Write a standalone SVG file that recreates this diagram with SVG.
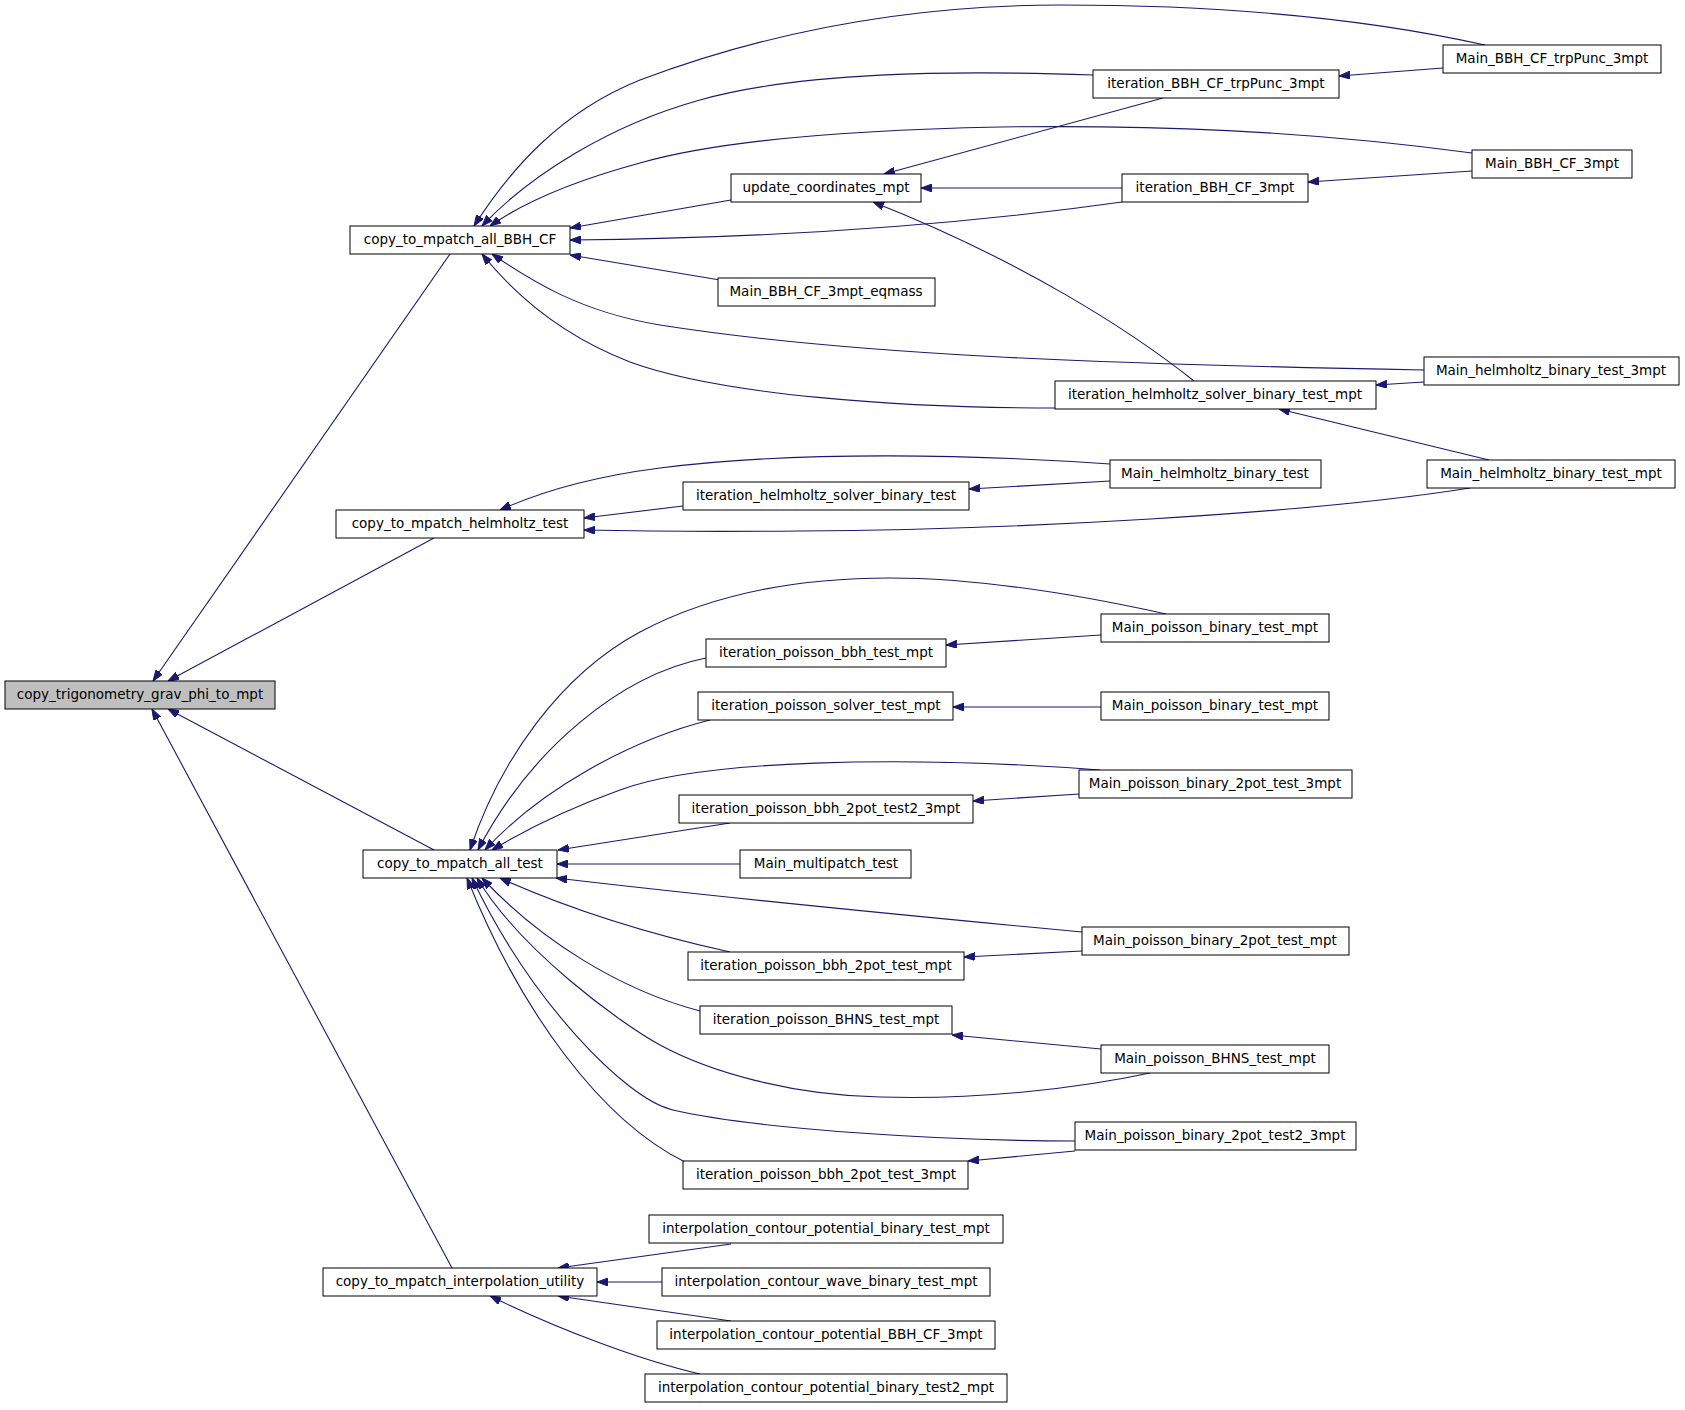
<svg xmlns="http://www.w3.org/2000/svg" width="1685" height="1410" viewBox="0 0 1685 1410">
<style>
.n rect{fill:#fff;stroke:#000;stroke-width:1}
.n text{font-family:"DejaVu Sans","Liberation Sans",sans-serif;font-size:13.5px;text-anchor:middle;fill:#000}
.e path{fill:none;stroke:#191970;stroke-width:1.1;marker-end:url(#ah)}
</style>
<defs>
<marker id="ah" markerUnits="userSpaceOnUse" markerWidth="11" markerHeight="8" refX="11" refY="4" orient="auto" viewBox="0 0 11 8">
<path d="M0,0 L11,4 L0,8 z" fill="#191970" stroke="#191970" stroke-width="1"/>
</marker>
</defs>
<rect width="1685" height="1410" fill="#fff"/>
<g id="edges" class="e">
<path d="M450,254 L153,681"/>
<path d="M434,538 L168,681"/>
<path d="M434,850 L168,709"/>
<path d="M452,1268 L152,709"/>
<path d="M1485,45 C1350,15 1200,5 1060,5 C900,5 760,35 640,80 C560,112 510,170 474,226"/>
<path d="M1093,75 C950,70 800,72 700,100 C610,125 530,175 482,226"/>
<path d="M1472,153 C1300,130 1150,125 1000,127 C850,130 720,140 640,163 C570,182 520,205 490,226"/>
<path d="M731,200 L570,228"/>
<path d="M1122,202 C980,222 800,238 570,240"/>
<path d="M720,280 L570,255"/>
<path d="M1424,370 C1100,364 850,355 660,325 C580,312 530,280 492,254"/>
<path d="M1055,408 C900,408 720,395 630,362 C560,335 515,295 482,254"/>
<path d="M1163,98 L884,174"/>
<path d="M1122,188 L921,188"/>
<path d="M1194,381 C1130,330 1020,260 873,202"/>
<path d="M1443,68 L1339,76"/>
<path d="M1472,171 L1308,182"/>
<path d="M1424,382 L1376,385"/>
<path d="M1489,460 L1279,409"/>
<path d="M1110,464 C980,455 800,450 660,468 C590,477 540,492 500,510"/>
<path d="M683,506 L584,518"/>
<path d="M1470,488 C1300,515 1000,530 800,531 C700,532 630,531 584,530"/>
<path d="M1110,481 L969,489"/>
<path d="M1166,614 C1080,595 980,578 890,578 C780,578 700,600 640,632 C560,675 500,760 470,850"/>
<path d="M706,658 C620,675 530,750 478,850"/>
<path d="M710,720 C630,740 540,790 485,850"/>
<path d="M1100,770 C900,755 700,760 620,790 C570,808 525,830 492,850"/>
<path d="M730,823 L558,850"/>
<path d="M740,864 L557,864"/>
<path d="M1082,932 C900,915 700,895 556,878"/>
<path d="M730,952 C640,932 560,905 500,878"/>
<path d="M700,1011 C620,990 540,940 482,878"/>
<path d="M1150,1073 C1080,1088 980,1100 880,1097 C790,1095 710,1072 660,1045 C620,1023 520,950 477,878"/>
<path d="M1075,1141 C950,1141 760,1130 673,1110 C625,1099 530,1000 472,878"/>
<path d="M685,1162 C600,1120 520,1010 467,878"/>
<path d="M1101,635 L946,645"/>
<path d="M1101,707 L953,707"/>
<path d="M1079,794 L973,801"/>
<path d="M1082,951 L964,957"/>
<path d="M1101,1049 L952,1035"/>
<path d="M1075,1151 L968,1161"/>
<path d="M731,1244 L558,1268"/>
<path d="M662,1282 L597,1282"/>
<path d="M731,1321 L558,1296"/>
<path d="M700,1374 C640,1360 560,1330 490,1296"/>
</g>
<g id="n0" class="n"><rect x="5" y="681" width="270" height="28" style="fill:#bfbfbf"/><text x="140" y="699">copy_trigonometry_grav_phi_to_mpt</text></g>
<g id="n1" class="n"><rect x="350" y="226" width="220" height="28"/><text x="460" y="244">copy_to_mpatch_all_BBH_CF</text></g>
<g id="n2" class="n"><rect x="336" y="510" width="248" height="28"/><text x="460" y="528">copy_to_mpatch_helmholtz_test</text></g>
<g id="n3" class="n"><rect x="363" y="850" width="194" height="28"/><text x="460" y="868">copy_to_mpatch_all_test</text></g>
<g id="n4" class="n"><rect x="323" y="1268" width="274" height="28"/><text x="460" y="1286">copy_to_mpatch_interpolation_utility</text></g>
<g id="n5" class="n"><rect x="1443" y="45" width="218" height="28"/><text x="1552" y="63">Main_BBH_CF_trpPunc_3mpt</text></g>
<g id="n6" class="n"><rect x="1093" y="70" width="246" height="28"/><text x="1216" y="88">iteration_BBH_CF_trpPunc_3mpt</text></g>
<g id="n7" class="n"><rect x="1472" y="150" width="160" height="28"/><text x="1552" y="168">Main_BBH_CF_3mpt</text></g>
<g id="n8" class="n"><rect x="731" y="174" width="190" height="28"/><text x="826" y="192">update_coordinates_mpt</text></g>
<g id="n9" class="n"><rect x="1122" y="174" width="186" height="28"/><text x="1215" y="192">iteration_BBH_CF_3mpt</text></g>
<g id="n10" class="n"><rect x="718" y="278" width="217" height="28"/><text x="826" y="296">Main_BBH_CF_3mpt_eqmass</text></g>
<g id="n11" class="n"><rect x="1424" y="357" width="255" height="28"/><text x="1551" y="375">Main_helmholtz_binary_test_3mpt</text></g>
<g id="n12" class="n"><rect x="1055" y="381" width="321" height="28"/><text x="1215" y="399">iteration_helmholtz_solver_binary_test_mpt</text></g>
<g id="n13" class="n"><rect x="1110" y="460" width="211" height="28"/><text x="1215" y="478">Main_helmholtz_binary_test</text></g>
<g id="n14" class="n"><rect x="1427" y="460" width="248" height="28"/><text x="1551" y="478">Main_helmholtz_binary_test_mpt</text></g>
<g id="n15" class="n"><rect x="683" y="482" width="286" height="28"/><text x="826" y="500">iteration_helmholtz_solver_binary_test</text></g>
<g id="n16" class="n"><rect x="1101" y="614" width="228" height="28"/><text x="1215" y="632">Main_poisson_binary_test_mpt</text></g>
<g id="n17" class="n"><rect x="706" y="639" width="240" height="28"/><text x="826" y="657">iteration_poisson_bbh_test_mpt</text></g>
<g id="n18" class="n"><rect x="698" y="692" width="255" height="28"/><text x="826" y="710">iteration_poisson_solver_test_mpt</text></g>
<g id="n19" class="n"><rect x="1101" y="692" width="228" height="28"/><text x="1215" y="710">Main_poisson_binary_test_mpt</text></g>
<g id="n20" class="n"><rect x="1079" y="770" width="273" height="28"/><text x="1215" y="788">Main_poisson_binary_2pot_test_3mpt</text></g>
<g id="n21" class="n"><rect x="679" y="795" width="294" height="28"/><text x="826" y="813">iteration_poisson_bbh_2pot_test2_3mpt</text></g>
<g id="n22" class="n"><rect x="740" y="850" width="171" height="28"/><text x="826" y="868">Main_multipatch_test</text></g>
<g id="n23" class="n"><rect x="1082" y="927" width="267" height="28"/><text x="1215" y="945">Main_poisson_binary_2pot_test_mpt</text></g>
<g id="n24" class="n"><rect x="688" y="952" width="276" height="28"/><text x="826" y="970">iteration_poisson_bbh_2pot_test_mpt</text></g>
<g id="n25" class="n"><rect x="700" y="1006" width="252" height="28"/><text x="826" y="1024">iteration_poisson_BHNS_test_mpt</text></g>
<g id="n26" class="n"><rect x="1101" y="1045" width="228" height="28"/><text x="1215" y="1063">Main_poisson_BHNS_test_mpt</text></g>
<g id="n27" class="n"><rect x="1075" y="1122" width="281" height="28"/><text x="1215" y="1140">Main_poisson_binary_2pot_test2_3mpt</text></g>
<g id="n28" class="n"><rect x="683" y="1161" width="285" height="28"/><text x="826" y="1179">iteration_poisson_bbh_2pot_test_3mpt</text></g>
<g id="n29" class="n"><rect x="649" y="1215" width="354" height="28"/><text x="826" y="1233">interpolation_contour_potential_binary_test_mpt</text></g>
<g id="n30" class="n"><rect x="662" y="1268" width="328" height="28"/><text x="826" y="1286">interpolation_contour_wave_binary_test_mpt</text></g>
<g id="n31" class="n"><rect x="657" y="1321" width="338" height="28"/><text x="826" y="1339">interpolation_contour_potential_BBH_CF_3mpt</text></g>
<g id="n32" class="n"><rect x="645" y="1374" width="362" height="28"/><text x="826" y="1392">interpolation_contour_potential_binary_test2_mpt</text></g>
</svg>
